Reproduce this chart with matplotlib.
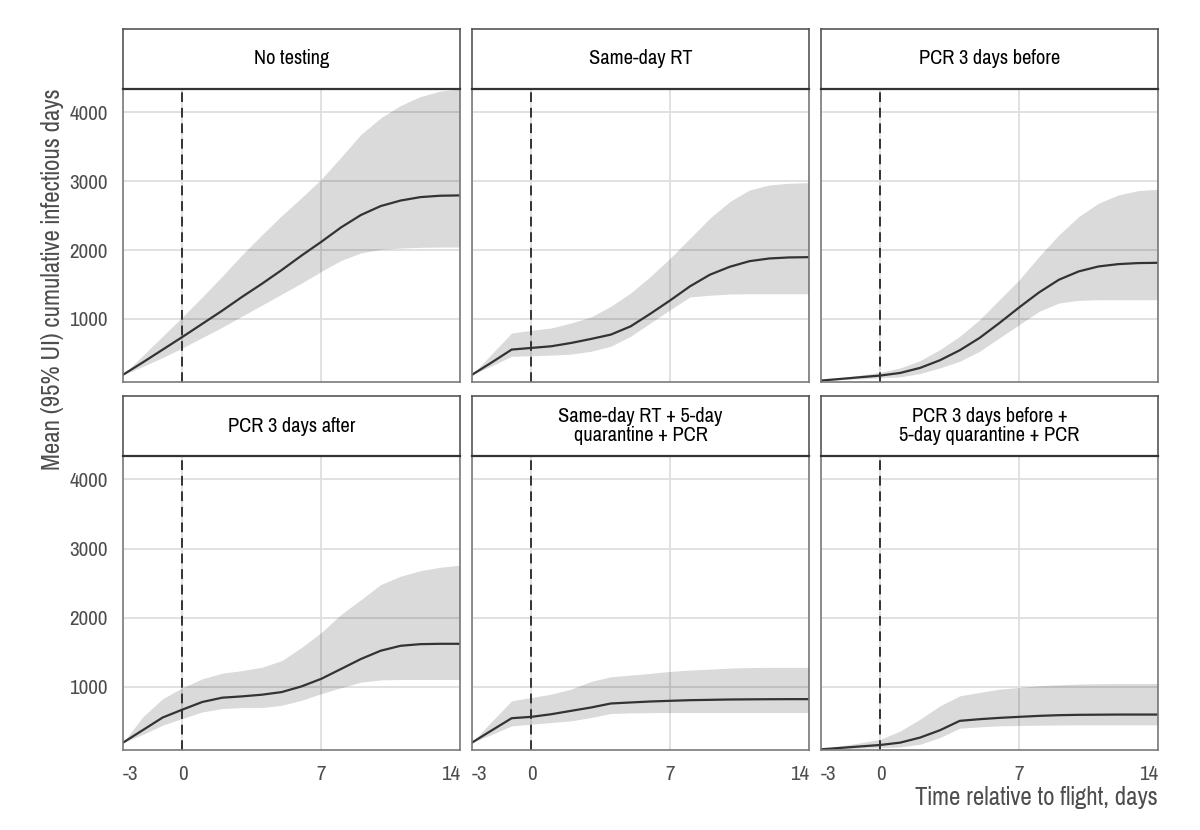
import matplotlib.pyplot as plt
from matplotlib import font_manager

# schmale Schrift wählen, die es im System gibt
names = {f.name for f in font_manager.fontManager.ttflist}
wanted = ['Liberation Sans Narrow', 'Arial Narrow', 'Pragati Narrow', 'Roboto Condensed',
          'Archivo Narrow', 'PT Sans Narrow', 'Liberation Sans']
fam = [n for n in wanted if n in names][0]
plt.rcParams['font.family'] = [fam, 'DejaVu Sans']

days = [-3, -2, -1, 0, 1, 2, 3, 4, 5, 6, 7, 8, 9, 10, 11, 12, 13, 14]

titles = ["No testing", "Same-day RT", "PCR 3 days before",
          "PCR 3 days after", "Same-day RT + 5-day\nquarantine + PCR",
          "PCR 3 days before +\n5-day quarantine + PCR"]

# Mittelwerte
mean_none = [190, 370, 555, 740, 930, 1120, 1320, 1510, 1710, 1920, 2120, 2330, 2510, 2640, 2720, 2770, 2790, 2795]
mean_rt = [190, 370, 556, 580, 604, 652, 710, 773, 893, 1077, 1271, 1475, 1643, 1758, 1840, 1879, 1894, 1898]
mean_pcr_before = [106, 130, 155, 179, 217, 290, 401, 546, 725, 942, 1169, 1386, 1570, 1691, 1763, 1797, 1812, 1816]
mean_pcr_after = [191, 373, 555, 670, 780, 842, 861, 885, 923, 1005, 1115, 1258, 1402, 1522, 1593, 1617, 1622, 1622]
mean_rt_q = [192, 370, 545, 565, 603, 652, 700, 758, 773, 787, 797, 806, 811, 816, 818, 820, 821, 821]
mean_pcr_q = [95, 116, 137, 158, 192, 265, 371, 507, 531, 550, 565, 579, 589, 594, 596, 598, 598, 598]

# obere Grenze 95% UI
hi_none = [190, 470, 750, 1030, 1320, 1620, 1930, 2220, 2500, 2760, 3030, 3350, 3680, 3920, 4100, 4230, 4310, 4340]
hi_rt = [190, 495, 797, 836, 870, 942, 1029, 1184, 1377, 1618, 1884, 2174, 2464, 2705, 2874, 2947, 2971, 2980]
hi_pcr_before = [106, 145, 185, 227, 290, 396, 556, 749, 990, 1280, 1570, 1908, 2222, 2488, 2681, 2802, 2865, 2884]
hi_pcr_after = [191, 565, 828, 986, 1115, 1196, 1234, 1282, 1378, 1569, 1785, 2048, 2260, 2480, 2600, 2680, 2730, 2760]
hi_rt_q = [192, 500, 797, 845, 894, 966, 1077, 1145, 1169, 1194, 1223, 1242, 1256, 1271, 1278, 1281, 1281, 1281]
hi_pcr_q = [100, 145, 190, 240, 361, 531, 724, 869, 918, 966, 990, 1015, 1029, 1039, 1044, 1048, 1048, 1048]

# untere Grenze 95% UI
lo_none = [190, 310, 440, 580, 730, 880, 1040, 1200, 1360, 1520, 1690, 1850, 1960, 2010, 2030, 2040, 2045, 2045]
lo_rt = [190, 320, 459, 465, 475, 490, 531, 604, 749, 942, 1135, 1320, 1345, 1362, 1367, 1367, 1367, 1367]
lo_pcr_before = [106, 120, 132, 145, 159, 208, 290, 386, 531, 725, 918, 1111, 1232, 1271, 1280, 1280, 1280, 1280]
lo_pcr_after = [191, 310, 445, 541, 636, 684, 699, 699, 732, 804, 900, 986, 1067, 1100, 1105, 1105, 1105, 1105]
lo_rt_q = [192, 310, 434, 458, 482, 507, 555, 613, 623, 625, 627, 627, 627, 627, 627, 627, 627, 627]
lo_pcr_q = [95, 103, 111, 120, 129, 168, 265, 400, 420, 434, 440, 444, 447, 449, 449, 449, 449, 449]

means = [mean_none, mean_rt, mean_pcr_before, mean_pcr_after, mean_rt_q, mean_pcr_q]
his = [hi_none, hi_rt, hi_pcr_before, hi_pcr_after, hi_rt_q, hi_pcr_q]
los = [lo_none, lo_rt, lo_pcr_before, lo_pcr_after, lo_rt_q, lo_pcr_q]

fig = plt.figure(figsize=(12, 8.3), dpi=100)
W, H = 1200, 830
lefts = [123, 472, 821]
pw = 337
rows = [(29, 89, 382), (396, 456, 750)]  # Streifen oben, Panel oben, Panel unten (px)

for i in range(6):
    r, c = divmod(i, 3)
    st, pt, pb = rows[r]
    ax = fig.add_axes([lefts[c] / W, (H - pb) / H, pw / W, (pb - pt) / H])
    ax.set_xlim(-3, 14)
    ax.set_ylim(85, 4340)
    ax.set_xticks([-3, 0, 7, 14])
    ax.set_yticks([1000, 2000, 3000, 4000])
    ax.grid(True, color='#dedede', linewidth=1.3)
    ax.set_axisbelow(True)
    ax.fill_between(days, los[i], his[i], color='black', alpha=0.145, linewidth=0)
    ax.plot(days, means[i], color='#333333', linewidth=1.6)
    ax.axvline(0, color='#333333', linewidth=1.4, linestyle=(0, (5, 3)))
    for s in ax.spines.values():
        s.set_color('#7a7a7a')
        s.set_linewidth(1.2)
    ax.tick_params(length=0, labelsize=16.5, labelcolor='#4d4d4d', pad=11)
    if c == 0:
        ax.set_yticklabels(['1000', '2000', '3000', '4000'])
    else:
        ax.set_yticklabels([])
    if r == 1:
        ax.set_xticklabels(['-3', '0', '7', '14'])
        lbls = ax.get_xticklabels()
        lbls[0].set_ha('left')
        lbls[-1].set_ha('right')
    else:
        ax.set_xticklabels([])

    # Streifen mit Titel
    sa = fig.add_axes([lefts[c] / W, (H - pt) / H, pw / W, (pt - st) / H])
    sa.set_xticks([])
    sa.set_yticks([])
    for s in sa.spines.values():
        s.set_color('#555555')
        s.set_linewidth(1.2)
    sa.spines['bottom'].set_color('#333333')
    sa.spines['bottom'].set_linewidth(1.6)
    sa.text(0.5, 0.5, titles[i], ha='center', va='center', fontsize=16,
            color='black', linespacing=1.05, transform=sa.transAxes)

fig.text(53 / W, (H - 279) / H, "Mean (95% UI) cumulative infectious days", rotation=90,
         ha='center', va='center', fontsize=19.5, color='#4d4d4d')
fig.text(1158 / W, (H - 797) / H, "Time relative to flight, days", ha='right', va='center',
         fontsize=19.5, color='#4d4d4d')

fig.savefig("out.png", dpi=100)
